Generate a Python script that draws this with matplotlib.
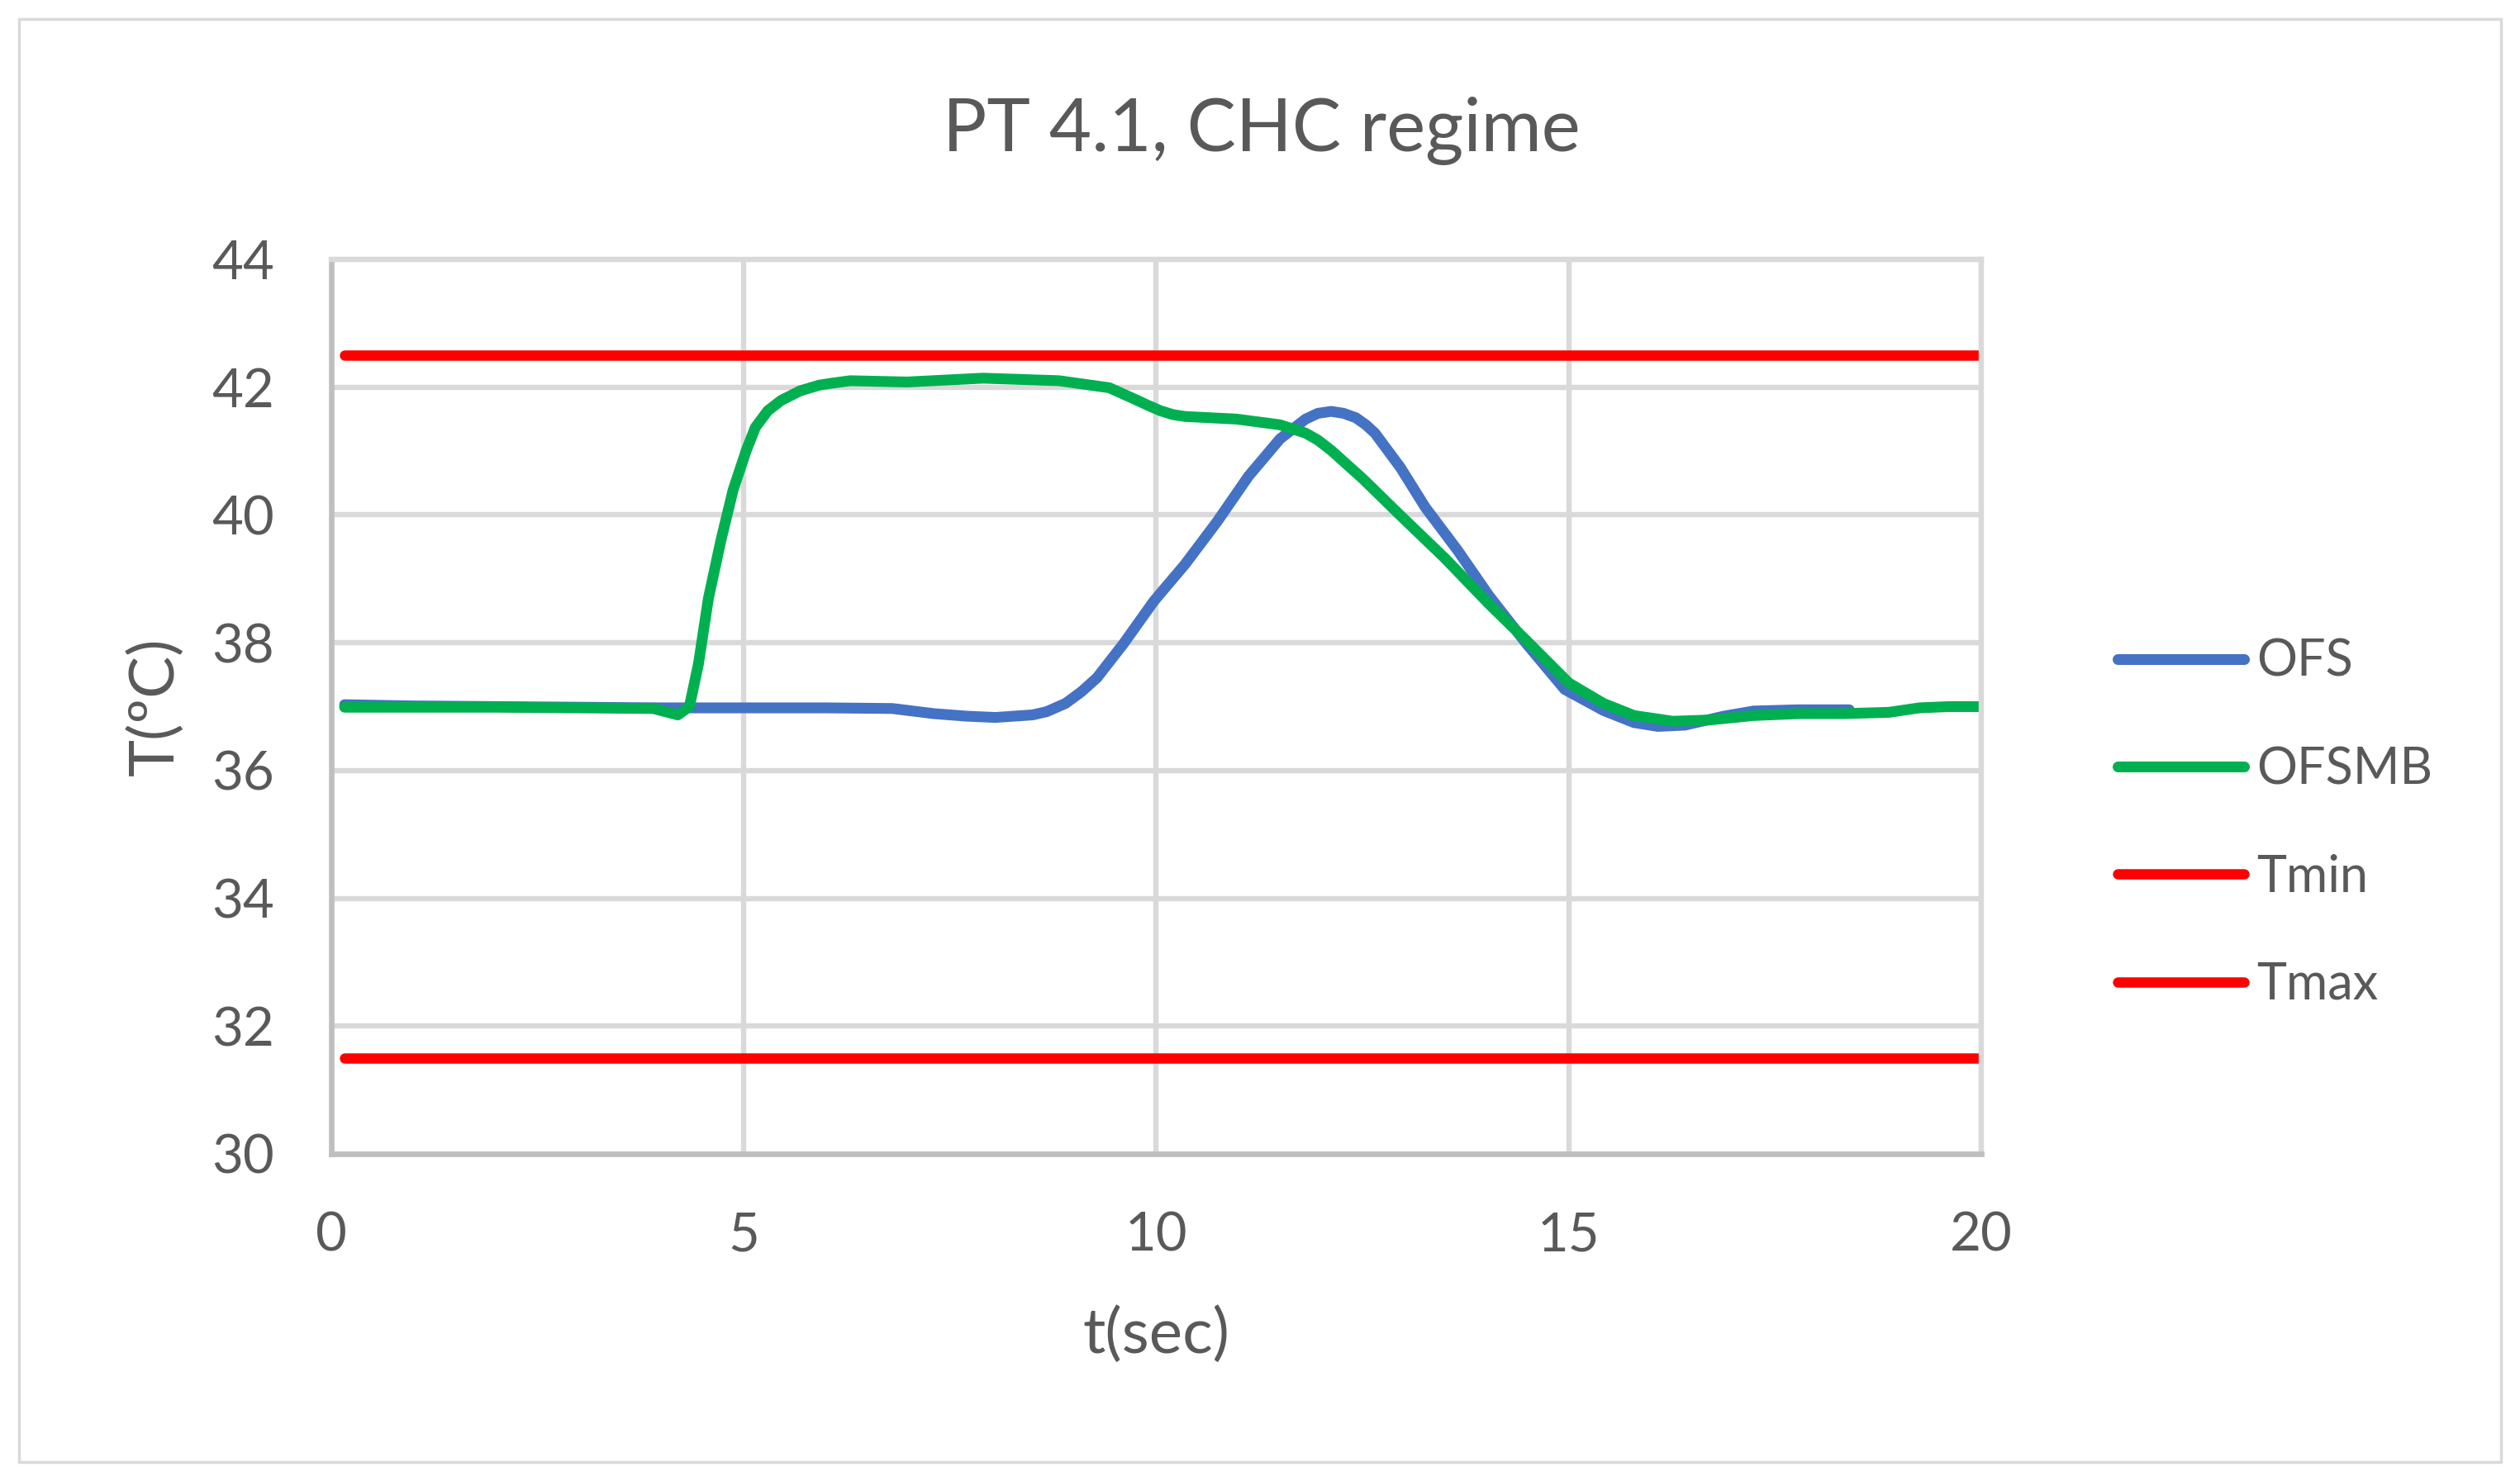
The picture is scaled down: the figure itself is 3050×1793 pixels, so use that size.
import matplotlib
matplotlib.use("Agg")
import matplotlib.pyplot as plt
from matplotlib.patches import Rectangle

plt.rcParams["font.family"] = ["Lato", "DejaVu Sans"]

# OFS curve (t in sec, T in degC)
t_ofs = [0.16, 1.0, 2.0, 3.0, 4.0, 5.0, 6.0, 6.8, 7.3, 7.7, 8.05, 8.5, 8.67,
         8.9, 9.09, 9.28, 9.6, 9.97, 10.35, 10.74, 11.12, 11.5, 11.81, 11.96,
         12.12, 12.27, 12.42, 12.54, 12.65, 12.96, 13.26, 13.65, 14.03, 14.49,
         14.95, 15.42, 15.79, 16.08, 16.41, 16.88, 17.24, 17.79, 18.4]
T_ofs = [37.03, 37.01, 37.0, 36.99, 36.98, 36.98, 36.98, 36.97, 36.89, 36.85,
         36.83, 36.87, 36.92, 37.05, 37.23, 37.45, 37.98, 38.65, 39.23, 39.9,
         40.61, 41.19, 41.5, 41.59, 41.62, 41.59, 41.52, 41.41, 41.28, 40.74,
         40.12, 39.45, 38.74, 37.98, 37.27, 36.94, 36.75, 36.69, 36.71, 36.85,
         36.93, 36.95, 36.95]

# OFSMB curve
t_ofsmb = [0.16, 1.0, 2.0, 3.0, 3.9, 4.05, 4.2, 4.34, 4.45, 4.57, 4.72, 4.87,
           5.03, 5.14, 5.29, 5.45, 5.68, 5.91, 6.06, 6.29, 6.98, 7.9, 8.82,
           9.43, 9.74, 9.89, 10.05, 10.2, 10.35, 10.97, 11.5, 11.81, 11.96,
           12.12, 12.5, 12.96, 13.5, 14.03, 14.49, 15.0, 15.42, 15.79, 16.26,
           16.7, 17.24, 17.79, 18.34, 18.88, 19.25, 19.61, 20.0]
T_ofsmb = [36.99, 36.99, 36.99, 36.98, 36.97, 36.92, 36.87, 37.0, 37.67, 38.69,
           39.59, 40.39, 41.01, 41.37, 41.63, 41.79, 41.94, 42.03, 42.06, 42.1,
           42.08, 42.14, 42.1, 41.99, 41.81, 41.72, 41.63, 41.57, 41.54, 41.5,
           41.41, 41.28, 41.17, 41.01, 40.57, 39.99, 39.32, 38.61, 38.03, 37.37,
           37.05, 36.86, 36.77, 36.79, 36.86, 36.89, 36.89, 36.91, 36.98, 37.0,
           37.0]

# limits
t_lim = [0.16, 20.0]
T_min = [31.5, 31.5]
T_max = [42.5, 42.5]

x_ticks = [0, 5, 10, 15, 20]
y_ticks = [30, 32, 34, 36, 38, 40, 42, 44]

text_col = "#595959"
grid_col = "#D9D9D9"
axis_col = "#BFBFBF"

fig = plt.figure(figsize=(30.5, 17.93), dpi=100)
ax = fig.add_axes([0.1315, 0.2209, 0.6547, 0.6040])

lw = 9.4
ax.plot(t_ofs, T_ofs, color="#4472C4", lw=lw, solid_capstyle="round",
        solid_joinstyle="round", label="OFS")
ax.plot(t_ofsmb, T_ofsmb, color="#00B050", lw=lw, solid_capstyle="round",
        solid_joinstyle="round", label="OFSMB")
ax.plot(t_lim, T_min, color="#FF0000", lw=9.0, solid_capstyle="round",
        label="Tmin")
ax.plot(t_lim, T_max, color="#FF0000", lw=9.0, solid_capstyle="round",
        label="Tmax")

ax.set_xlim(0, 20)
ax.set_ylim(30, 44)
ax.set_xticks(x_ticks)
ax.set_yticks(y_ticks)
ax.grid(True, color=grid_col, lw=4.6)
ax.set_axisbelow(True)
ax.tick_params(length=0, pad=50, labelsize=47, labelcolor=text_col)

for s in ["top", "right"]:
    ax.spines[s].set_color(grid_col)
    ax.spines[s].set_linewidth(4.6)
for s in ["left", "bottom"]:
    ax.spines[s].set_color(axis_col)
    ax.spines[s].set_linewidth(4.8)

ax.set_xlabel("t(sec)", fontsize=55, color=text_col, labelpad=40)
ax.set_ylabel("T(ºC)", fontsize=55, color=text_col, labelpad=24)

fig.text(0.5007, 0.9117, "PT 4.1, CHC regime", ha="center", va="center",
         fontsize=64, color=text_col)

fig.legend(loc="center left", bbox_to_anchor=(0.8303, 0.444), frameon=False,
           fontsize=44, labelcolor=text_col, handlelength=2.5,
           handletextpad=0.25, labelspacing=1.2, borderpad=0)

# chart-area border
fig.patches.append(Rectangle((23 / 3050, 23 / 1793), 3004 / 3050, 1747 / 1793,
                             transform=fig.transFigure, fill=False,
                             edgecolor=grid_col, lw=2.5))

fig.savefig("out.png", dpi=100, facecolor="white")
